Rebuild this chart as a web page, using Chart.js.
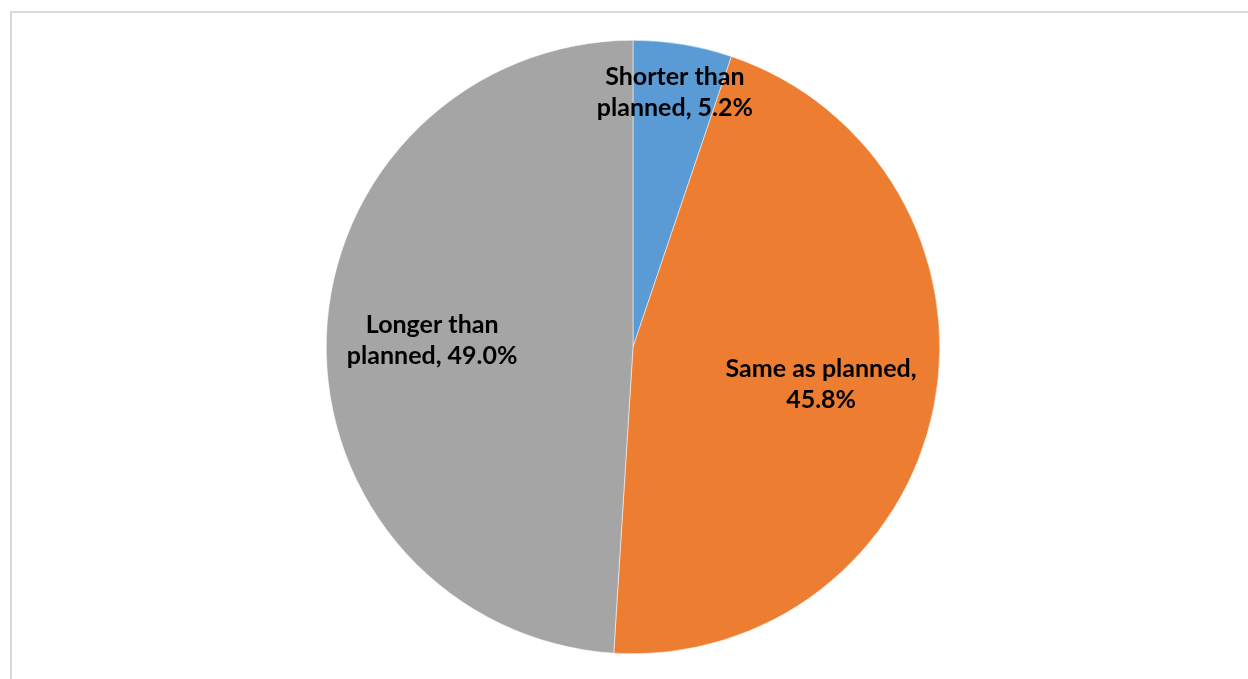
<!DOCTYPE html>
<html>
<head>
<meta charset="utf-8">
<script src="https://cdn.jsdelivr.net/npm/chart.js@4.4.0/dist/chart.umd.min.js"></script>
<style>
    html, body { margin: 0; padding: 0; background: #ffffff; }
    #frame {
        position: absolute;
        left: 10px;
        top: 11px;
        width: 1300px;
        height: 800px;
        border-left: 2px solid #d9d9d9;
        border-top: 2px solid #d9d9d9;
    }
    #wrap { position: absolute; left: 0; top: 0; width: 1248px; height: 679px; }
</style>
</head>
<body>
<div id="frame"></div>
<div id="wrap"><canvas id="pieChart"></canvas></div>
<script>
const categories = ["Shorter than planned", "Same as planned", "Longer than planned"];
const shares = [5.2, 45.8, 49.0];
const sliceColors = ["#5b9bd5", "#ed7d31", "#a5a5a5"];
// how far out along each slice's middle the label sits (fraction of radius)
const labelRadius = [0.84, 0.625, 0.655];
// line breaks used for each data label
const labelLines = [
    ["Shorter than", "planned, %v%"],
    ["Same as planned,", "%v%"],
    ["Longer than", "planned, %v%"]
];

const sliceLabels = {
    id: "sliceLabels",
    afterDatasetsDraw(chart) {
        const ctx = chart.ctx;
        const arcs = chart.getDatasetMeta(0).data;
        ctx.save();
        ctx.font = "bold 25px Lato, 'Open Sans', sans-serif";
        ctx.fillStyle = "#000000";
        ctx.textAlign = "center";
        ctx.textBaseline = "middle";
        arcs.forEach((arc, i) => {
            const p = arc.getProps(["x", "y", "startAngle", "endAngle", "outerRadius"], true);
            const mid = (p.startAngle + p.endAngle) / 2;
            const r = p.outerRadius * labelRadius[i];
            const cx = p.x + Math.cos(mid) * r;
            const cy = p.y + Math.sin(mid) * r;
            const lines = labelLines[i].map(t => t.replace("%v", shares[i].toFixed(1)));
            const lh = 31;
            lines.forEach((t, k) => {
                ctx.fillText(t, cx, cy + (k - (lines.length - 1) / 2) * lh);
            });
        });
        ctx.restore();
    }
};

new Chart(document.getElementById("pieChart"), {
    type: "pie",
    data: {
        labels: categories,
        datasets: [{
            data: shares,
            backgroundColor: sliceColors,
            borderColor: "#ffffff",
            borderWidth: 0.5
        }]
    },
    options: {
        responsive: true,
        maintainAspectRatio: false,
        animation: false,
        layout: { padding: { left: 18, right: 0, top: 40, bottom: 25 } },
        plugins: {
            legend: { display: false },
            tooltip: { enabled: false }
        }
    },
    plugins: [sliceLabels]
});
</script>
</body>
</html>
